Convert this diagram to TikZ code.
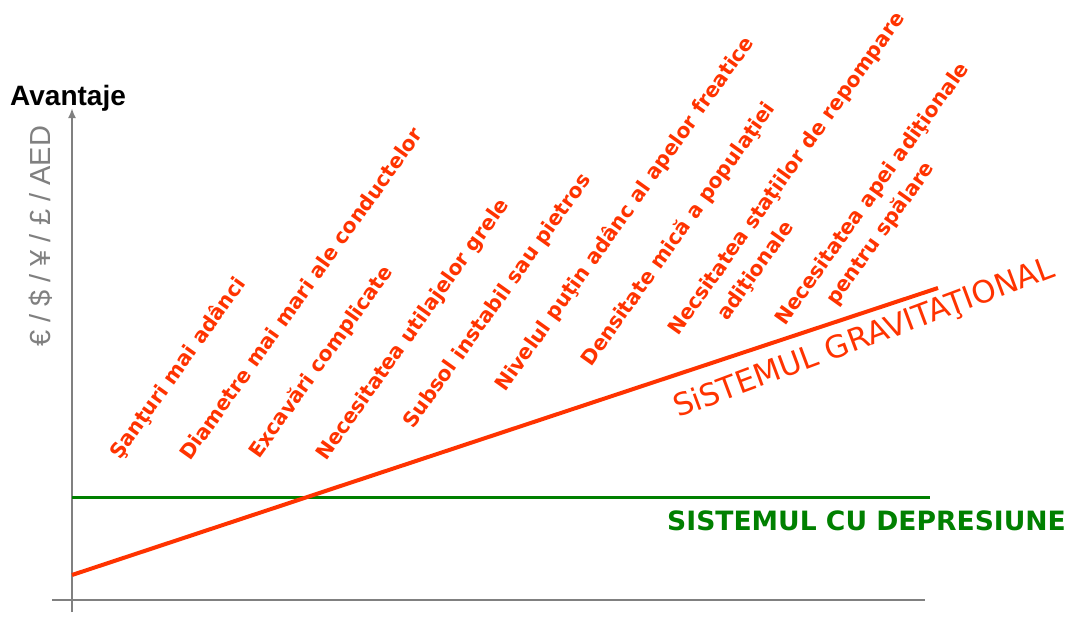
\documentclass[tikz,border=0pt]{standalone}
\usepackage{fontspec}
\setmainfont{DejaVu Sans}
\newfontfamily\arialfont{Liberation Sans}
\usetikzlibrary{arrows.meta}
\definecolor{gravred}{RGB}{255,51,0}
\definecolor{vacgreen}{RGB}{0,128,0}
\definecolor{axisgray}{RGB}{128,128,128}

\begin{document}
\begin{tikzpicture}[x=1pt, y=-1pt,
    axis/.style={axisgray, line width=2pt},
    cause/.style={gravred, anchor=base west, rotate=54.5, inner sep=0pt,
        font=\fontsize{20.5}{24}\selectfont\bfseries}]
    \useasboundingbox (0,0) rectangle (1071,618);

    \coordinate (ybottom) at (72,612);
    \coordinate (ytop) at (72,108);
    \coordinate (xleft) at (52,600);
    \coordinate (xright) at (925,600);
    \draw [axis, -{Latex[length=10pt, width=8pt]}] (ybottom) -- (ytop);
    \draw [axis] (xleft) -- (xright);

    \node (yname) [anchor=base west, inner sep=0pt,
        font=\arialfont\fontsize{28}{30}\selectfont\bfseries] at (10,105) {Avantaje};
    \node (ycurrency) [anchor=base west, inner sep=0pt, rotate=90, axisgray,
        font=\arialfont\fontsize{29}{30}\selectfont] at (50,347) {€ / \$ / ¥ / £ / AED};

    \coordinate (vacstart) at (72,497);
    \coordinate (vacend) at (930,497);
    \coordinate (gravstart) at (72,575);
    \coordinate (gravend) at (938,288);
    \draw [vacgreen, line width=3pt] (vacstart) -- (vacend);
    \draw [gravred, line width=4pt] (gravstart) -- (gravend);

    \node (vacname) [vacgreen, anchor=base west, inner sep=0pt,
        font=\fontsize{26.6}{28}\selectfont\bfseries] at (667,530) {SISTEMUL CU DEPRESIUNE};
    \node (gravname) [gravred, anchor=base west, inner sep=0pt, rotate=20.5,
        font=\fontsize{30.8}{32}\selectfont] at (678,418) {SiSTEMUL GRAVITAŢIONAL};

    \foreach \name/\pos/\txt in {
        c1/{(120,461)}/{Şanţuri mai adânci},
        c2/{(190,462)}/{Diametre mai mari ale conductelor},
        c3/{(259,460)}/{Excavări complicate},
        c4/{(326,462)}/{Necesitatea utilajelor grele},
        c5/{(413,430)}/{Subsol instabil sau pietros},
        c6/{(505,393)}/{Nivelul puţin adânc al apelor freatice},
        c7/{(591,368)}/{Densitate mică a populaţiei},
        c8/{(678,337)}/{Necsitatea staţiilor de repompare},
        c8b/{(727,322)}/{adiţionale},
        c9/{(785,327)}/{Necesitatea apei adiţionale},
        c9b/{(836,307)}/{pentru spălare}} {
        \node (\name) [cause] at \pos {\txt};
    }
\end{tikzpicture}
\end{document}
